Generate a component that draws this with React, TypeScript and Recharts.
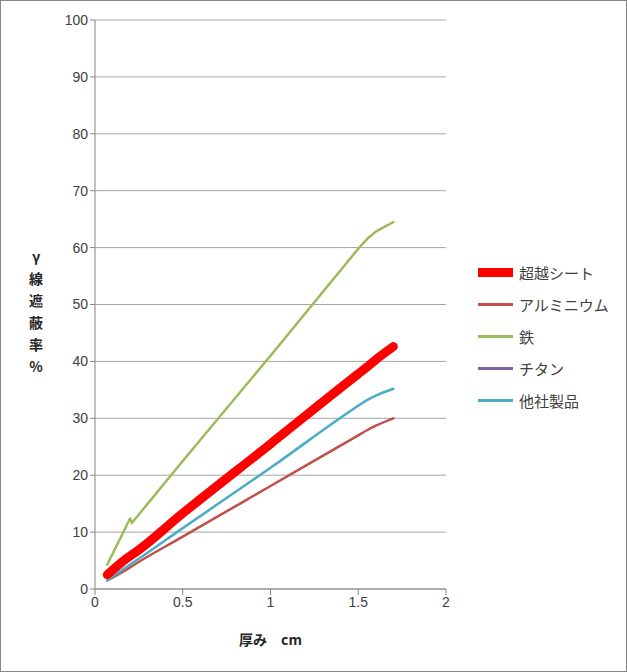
import { CartesianGrid, Line, LineChart, XAxis, YAxis } from 'recharts';

// 厚み (cm)
const thickness = [0.07, 0.2, 0.21, 0.5, 1.0, 1.5, 1.55, 1.6, 1.7];
// γ線遮蔽率 (%)
const superSheet = [2.5, 5.8, 6.0, 13.3, 25.5, 37.8, 39.0, 40.3, 42.6];
const aluminium = [1.5, 3.8, 4.0, 9.2, 18.1, 27.0, 27.9, 28.7, 30.0];
const iron = [4.3, 12.4, 11.6, 22.5, 41.0, 59.8, 61.5, 62.8, 64.5];
const titanium = [2.0, 5.3, 5.5, 12.8, 25.3, 38.2, 39.5, 40.8, 42.3];
const otherBrand = [1.5, 4.3, 4.5, 10.7, 21.3, 32.2, 33.2, 34.0, 35.2];

const xTicks = [0, 0.5, 1, 1.5, 2];
const yTicks = [0, 10, 20, 30, 40, 50, 60, 70, 80, 90, 100];

const SERIES = [
  { key: 'super', name: '超越シート', values: superSheet, color: '#FF0000', width: 9 },
  { key: 'al', name: 'アルミニウム', values: aluminium, color: '#C0504D', width: 2.5 },
  { key: 'fe', name: '鉄', values: iron, color: '#9BBB59', width: 2.5 },
  { key: 'ti', name: 'チタン', values: titanium, color: '#8064A2', width: 2.5 },
  { key: 'other', name: '他社製品', values: otherBrand, color: '#4BACC6', width: 2.5 },
];

const data = thickness.map((x, i) => {
  const row: Record<string, number> = { x };
  SERIES.forEach((s) => (row[s.key] = s.values[i]));
  return row;
});

const FONT = '"Liberation Sans", "Noto Sans CJK JP", sans-serif';
const JP = '"Noto Sans CJK JP", sans-serif';
const GRAY = '#868686';

function LegendBox() {
  return (
    <div style={{ position: 'absolute', left: 477, top: 255, fontFamily: JP, fontSize: 15, color: '#404040' }}>
      {SERIES.map((s) => (
        <div key={s.key} style={{ display: 'flex', alignItems: 'center', height: 32 }}>
          <div style={{ width: 35, height: s.key === 'super' ? 9 : 3, background: s.color, marginRight: 6 }} />
          <span>{s.name}</span>
        </div>
      ))}
    </div>
  );
}

export default function App() {
  // titanium drawn first so the thick red line covers most of it
  const drawOrder = ['ti', 'al', 'fe', 'other', 'super'];
  return (
    <div style={{ position: 'absolute', left: 0, top: 0, width: 627, height: 672, background: '#fff', boxSizing: 'border-box', border: `1px solid ${GRAY}` }}>
      <LineChart width={625} height={670} data={data} margin={{ top: 19, right: 180, bottom: 52, left: 54 }}>
        <CartesianGrid vertical={false} stroke="#A6A6A6" />
        <XAxis
          type="number"
          dataKey="x"
          domain={[0, 2]}
          ticks={xTicks}
          height={30}
          tick={{ fontSize: 14, fill: '#404040', fontFamily: FONT }}
          axisLine={{ stroke: GRAY }}
          tickLine={{ stroke: GRAY }}
          tickSize={6}
        />
        <YAxis
          domain={[0, 100]}
          ticks={yTicks}
          width={40}
          tick={{ fontSize: 14, fill: '#404040', fontFamily: FONT }}
          axisLine={{ stroke: GRAY }}
          tickLine={{ stroke: GRAY }}
          tickSize={5}
        />
        {drawOrder.map((k) => {
          const s = SERIES.find((d) => d.key === k)!;
          return (
            <Line
              key={s.key}
              type={s.key === 'fe' ? 'linear' : 'monotone'}
              dataKey={s.key}
              name={s.name}
              stroke={s.color}
              strokeWidth={s.width}
              strokeLinecap="round"
              strokeLinejoin="round"
              dot={false}
              activeDot={false}
              isAnimationActive={false}
            />
          );
        })}
      </LineChart>
      <LegendBox />
      <div style={{ position: 'absolute', left: 25, top: 244, width: 20, textAlign: 'center', fontFamily: JP, fontWeight: 'bold', fontSize: 14, lineHeight: '22px', color: '#262626' }}>
        {['γ', '線', '遮', '蔽', '率', '%'].map((c, i) => (
          <div key={i}>{c}</div>
        ))}
      </div>
      <div style={{ position: 'absolute', left: 238, top: 628, fontFamily: JP, fontWeight: 'bold', fontSize: 14, color: '#262626', whiteSpace: 'pre' }}>
        {'厚み　cm'}
      </div>
    </div>
  );
}
